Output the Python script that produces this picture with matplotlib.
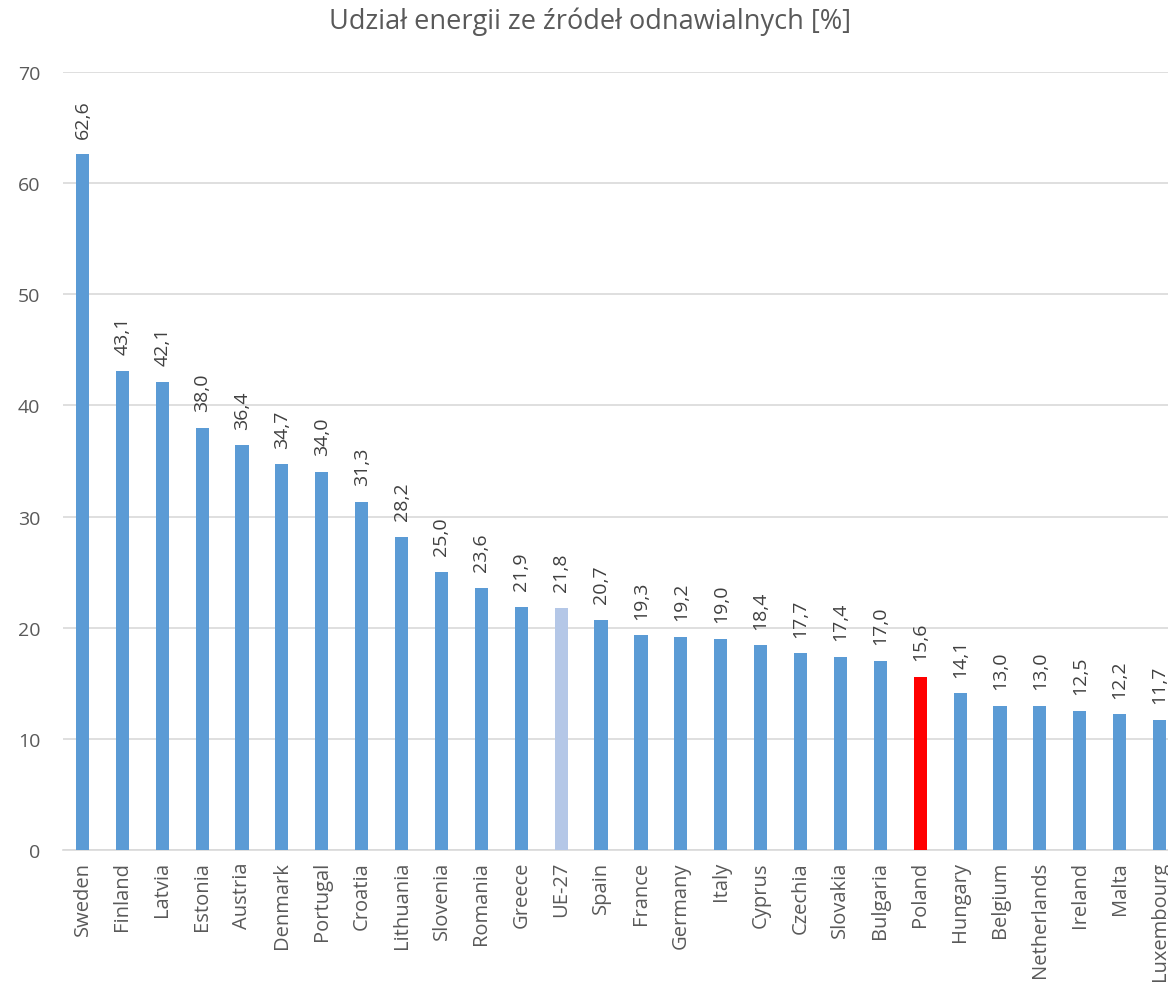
import matplotlib
matplotlib.use('Agg')
import matplotlib.pyplot as plt

countries = ['Sweden', 'Finland', 'Latvia', 'Estonia', 'Austria', 'Denmark', 'Portugal',
             'Croatia', 'Lithuania', 'Slovenia', 'Romania', 'Greece', 'UE-27', 'Spain',
             'France', 'Germany', 'Italy', 'Cyprus', 'Czechia', 'Slovakia', 'Bulgaria',
             'Poland', 'Hungary', 'Belgium', 'Netherlands', 'Ireland', 'Malta', 'Luxembourg']
share = [62.6, 43.1, 42.1, 38.0, 36.4, 34.7, 34.0, 31.3, 28.2, 25.0, 23.6, 21.9, 21.8, 20.7,
         19.3, 19.2, 19.0, 18.4, 17.7, 17.4, 17.0, 15.6, 14.1, 13.0, 13.0, 12.5, 12.2, 11.7]
y_ticks = [0, 10, 20, 30, 40, 50, 60, 70]

plt.rcParams['font.family'] = ['Open Sans', 'DejaVu Sans']

colors = []
for c in countries:
    if c == 'UE-27':
        colors.append('#b4c7e7')
    elif c == 'Poland':
        colors.append('#ff0000')
    else:
        colors.append('#5b9bd5')

fig = plt.figure(figsize=(11.68, 9.87), dpi=100)
# axes run past the right edge, the last bar sits at the border
ax = fig.add_axes([62.5 / 1168, 1 - 851 / 987, 1117 / 1168, (851 - 73) / 987])

x = range(len(countries))
ax.bar(x, share, width=0.33, color=colors, zorder=3)

for i, v in zip(x, share):
    ax.text(i, v + 1.5, f'{v:.1f}'.replace('.', ','), rotation=90, ha='center', va='bottom',
            fontsize=14, color='#404040')

ax.set_xlim(-0.5, len(countries) - 0.5)
ax.set_ylim(0, 70)
ax.set_yticks(y_ticks)
ax.set_xticks(list(x))
ax.set_xticklabels(countries, rotation=90, fontsize=14.5, color='#595959')
ax.tick_params(axis='y', labelsize=14, labelcolor='#595959', length=0, pad=16)
ax.tick_params(axis='x', length=0, pad=8)
ax.grid(axis='y', color='#d9d9d9', linewidth=1.2, zorder=0)
for s in ['top', 'right', 'left']:
    ax.spines[s].set_visible(False)
ax.spines['bottom'].set_color('#d9d9d9')
ax.spines['bottom'].set_linewidth(1.2)

fig.text(0.505, 1 - 22 / 987, 'Udział energii ze źródeł odnawialnych [%]', ha='center', va='center',
         fontsize=19.5, color='#595959')

plt.savefig('out.png', dpi=100)
